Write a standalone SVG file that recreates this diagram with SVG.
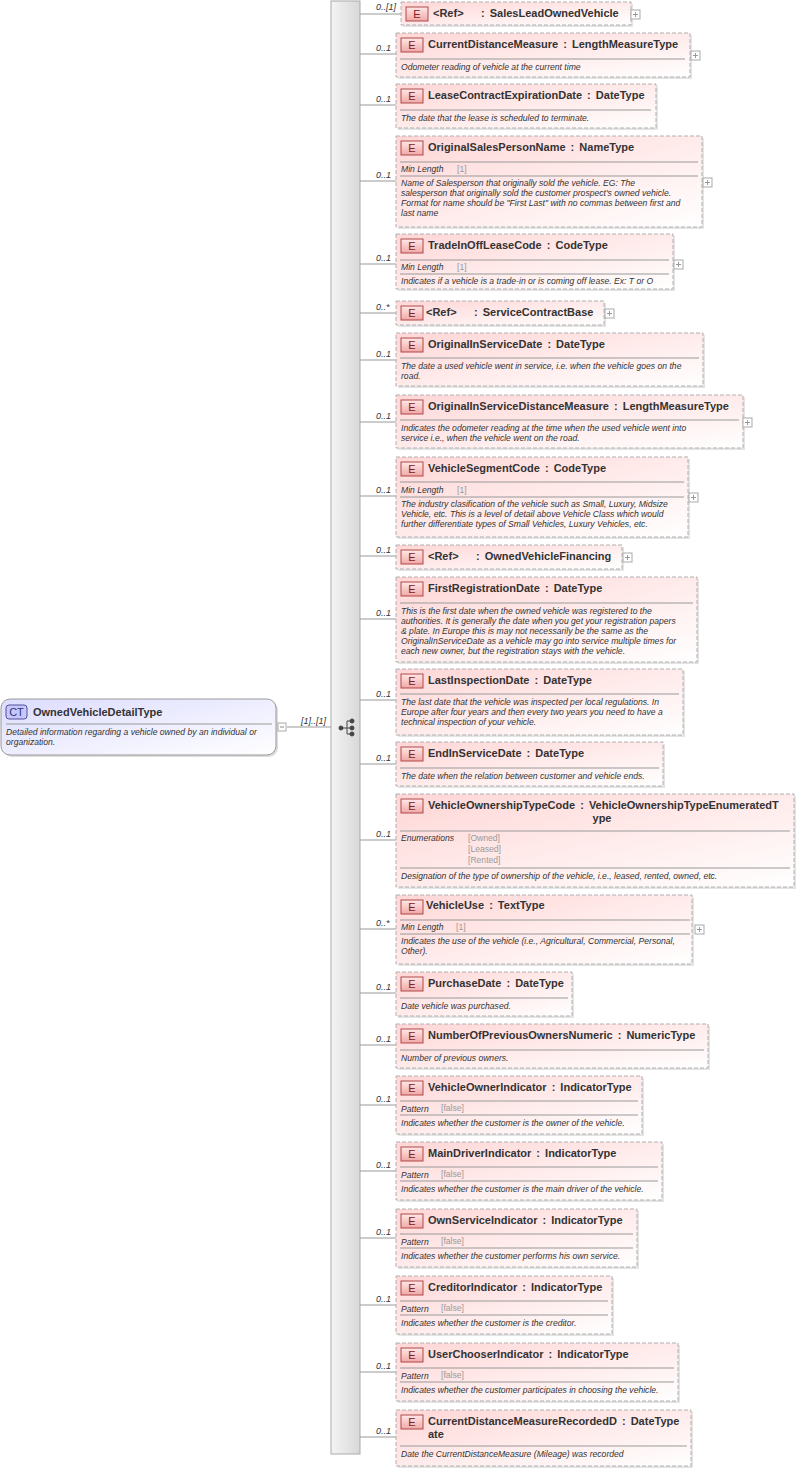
<svg xmlns="http://www.w3.org/2000/svg" width="799" height="1472" viewBox="0 0 799 1472">
<defs>
<linearGradient id="eg" x1="0" y1="0" x2="1" y2="1"><stop offset="0" stop-color="#ffd6d6"/><stop offset="1" stop-color="#ffffff"/></linearGradient>
<linearGradient id="cg" x1="0" y1="0" x2="1" y2="1"><stop offset="0" stop-color="#dcdcff"/><stop offset="1" stop-color="#ffffff"/></linearGradient>
<linearGradient id="bg" x1="0" y1="0" x2="1" y2="0"><stop offset="0" stop-color="#f4f4f4"/><stop offset="1" stop-color="#d8d8d8"/></linearGradient>
<linearGradient id="badge" x1="0" y1="0" x2="0" y2="1"><stop offset="0" stop-color="#ffe8e8"/><stop offset="1" stop-color="#f0a8a8"/></linearGradient>
</defs>
<style>
.box{fill:url(#eg);stroke:#b0b0b0;stroke-dasharray:4,2;stroke-width:1}
.sh{fill:#e4e4e4}
.bd{fill:url(#badge);stroke:#b04848;stroke-width:1}
.bt{font:11px "Liberation Sans",Arial,sans-serif;fill:#802020;text-anchor:middle}
.t{font:bold 11px "Liberation Sans",Arial,sans-serif;fill:#333;word-spacing:2px}
.d{font:italic 8.6px "Liberation Sans",Arial,sans-serif;fill:#333}
.g{font:8.6px "Liberation Sans",Arial,sans-serif;fill:#999}
.m{font:italic 9px "Liberation Sans",Arial,sans-serif;fill:#333}
.sep{stroke:#999;stroke-width:1}
.ln{stroke:#999;stroke-width:1;fill:none}
.pl{fill:#fff;stroke:#aaa}
.pc{stroke:#999;stroke-width:1;fill:none}
</style>
<g id="connectors">
<rect x="331" y="1" width="29" height="1453" fill="url(#bg)" stroke="#aaa"/>
<line class="ln" x1="287" y1="727" x2="331" y2="727"/>
<text class="m" x="301" y="724">[1]..[1]</text>
<g fill="#444" stroke="#444">
<circle cx="341" cy="728" r="2"/><line x1="341" y1="728" x2="347" y2="728"/><line x1="347" y1="721" x2="347" y2="734"/>
<line x1="347" y1="721" x2="352" y2="721"/><line x1="347" y1="728" x2="352" y2="728"/><line x1="347" y1="734" x2="352" y2="734"/>
<circle cx="352" cy="721" r="2"/><circle cx="352" cy="728" r="2"/><circle cx="352" cy="734" r="2"/>
</g>
<path class="ln" d="M360 14H401M360 54H396M360 105H396M360 181H396M360 264H396M360 313H396M360 360H396M360 422H396M360 496H396M360 556H396M360 619H396M360 700H396M360 764H396M360 840H396M360 929H396M360 993H396M360 1045H396M360 1105H396M360 1171H396M360 1238H396M360 1305H396M360 1372H396M360 1437H396"/>
<g class="m">
<text x="376" y="10">0..[1]</text><text x="376" y="51">0..1</text><text x="376" y="102">0..1</text><text x="376" y="178">0..1</text><text x="376" y="261">0..1</text><text x="376" y="310">0..*</text><text x="376" y="357">0..1</text><text x="376" y="419">0..1</text><text x="376" y="493">0..1</text><text x="376" y="553">0..1</text><text x="376" y="616">0..1</text><text x="376" y="697">0..1</text><text x="376" y="761">0..1</text><text x="376" y="837">0..1</text><text x="376" y="926">0..*</text><text x="376" y="990">0..1</text><text x="376" y="1042">0..1</text><text x="376" y="1102">0..1</text><text x="376" y="1168">0..1</text><text x="376" y="1235">0..1</text><text x="376" y="1302">0..1</text><text x="376" y="1369">0..1</text><text x="376" y="1434">0..1</text>
</g>
</g>
<g id="ct">
<rect x="3" y="701" width="275" height="56" rx="9" fill="#ddd"/>
<rect x="1" y="699" width="275" height="56" rx="9" fill="url(#cg)" stroke="#999"/>
<rect x="6" y="705" width="21" height="14" rx="3" fill="#c8c8f8" stroke="#5050a0"/>
<text x="16.5" y="716" font-family="Liberation Sans,Arial,sans-serif" font-size="11" text-anchor="middle" fill="#303080">CT</text>
<text class="t" x="33" y="716">OwnedVehicleDetailType</text>
<line class="sep" x1="6" y1="724" x2="272" y2="724"/>
<text class="d" x="6" y="735">Detailed information regarding a vehicle owned by an individual or</text>
<text class="d" x="6" y="745">organization.</text>
<rect class="pl" x="278" y="723" width="8" height="8"/><line x1="280" y1="727" x2="284" y2="727" stroke="#888"/>
</g>
<g id="n1"><rect class="sh" x="403" y="4" width="230" height="23"/><rect class="box" x="401" y="2" width="230" height="23"/><rect class="bd" x="406" y="7" width="22" height="14"/><text class="bt" x="417" y="18">E</text><text class="t" x="433" y="17">&lt;Ref&gt;</text><text class="t" x="481" y="17">: SalesLeadOwnedVehicle</text><rect class="pl" x="631" y="10" width="9" height="9"/><path class="pc" d="M633 14.5h5M635.5 12v5"/></g>
<g id="n2"><rect class="sh" x="398" y="35" width="294" height="44"/><rect class="box" x="396" y="33" width="294" height="44"/><rect class="bd" x="401" y="38" width="22" height="14"/><text class="bt" x="412" y="49">E</text><text class="t" x="428" y="48">CurrentDistanceMeasure : LengthMeasureType</text><line class="sep" x1="400" y1="59" x2="685" y2="59"/><text class="d" x="401" y="70">Odometer reading of vehicle at the current time</text><rect class="pl" x="691" y="51" width="9" height="9"/><path class="pc" d="M693 55.5h5M695.5 53v5"/></g>
<g id="n3"><rect class="sh" x="398" y="86" width="260" height="44"/><rect class="box" x="396" y="84" width="260" height="44"/><rect class="bd" x="401" y="89" width="22" height="14"/><text class="bt" x="412" y="100">E</text><text class="t" x="428" y="99">LeaseContractExpirationDate : DateType</text><line class="sep" x1="400" y1="110" x2="651" y2="110"/><text class="d" x="401" y="121">The date that the lease is scheduled to terminate.</text></g>
<g id="n4"><rect class="sh" x="398" y="138" width="306" height="91"/><rect class="box" x="396" y="136" width="306" height="91"/><rect class="bd" x="401" y="141" width="22" height="14"/><text class="bt" x="412" y="152">E</text><text class="t" x="428" y="151">OriginalSalesPersonName : NameType</text><line class="sep" x1="400" y1="162" x2="698" y2="162"/><text class="d" x="401" y="172">Min Length</text><text class="g" x="457" y="172">[1]</text><line class="sep" x1="400" y1="176" x2="698" y2="176"/><text class="d" x="401" y="186">Name of Salesperson that originally sold the vehicle. EG: The</text><text class="d" x="401" y="196">salesperson that originally sold the customer prospect's owned vehicle.</text><text class="d" x="401" y="206">Format for name should be "First Last" with no commas between first and</text><text class="d" x="401" y="216">last name</text><rect class="pl" x="703" y="178" width="9" height="9"/><path class="pc" d="M705 182.5h5M707.5 180v5"/></g>
<g id="n5"><rect class="sh" x="398" y="236" width="277" height="55"/><rect class="box" x="396" y="234" width="277" height="55"/><rect class="bd" x="401" y="239" width="22" height="14"/><text class="bt" x="412" y="250">E</text><text class="t" x="428" y="249">TradeInOffLeaseCode : CodeType</text><line class="sep" x1="400" y1="260" x2="669" y2="260"/><text class="d" x="401" y="270">Min Length</text><text class="g" x="457" y="270">[1]</text><line class="sep" x1="400" y1="274" x2="669" y2="274"/><text class="d" x="401" y="284">Indicates if a vehicle is a trade-in or is coming off lease. Ex: T or O</text><rect class="pl" x="674" y="260" width="9" height="9"/><path class="pc" d="M676 264.5h5M678.5 262v5"/></g>
<g id="n6"><rect class="sh" x="398" y="303" width="208" height="24"/><rect class="box" x="396" y="301" width="208" height="24"/><rect class="bd" x="401" y="306" width="22" height="14"/><text class="bt" x="412" y="317">E</text><text class="t" x="426" y="316">&lt;Ref&gt;</text><text class="t" x="474" y="316">: ServiceContractBase</text><rect class="pl" x="605" y="309" width="9" height="9"/><path class="pc" d="M607 313.5h5M609.5 311v5"/></g>
<g id="n7"><rect class="sh" x="398" y="335" width="307" height="53"/><rect class="box" x="396" y="333" width="307" height="53"/><rect class="bd" x="401" y="338" width="22" height="14"/><text class="bt" x="412" y="349">E</text><text class="t" x="428" y="348">OriginalInServiceDate : DateType</text><line class="sep" x1="400" y1="358" x2="699" y2="358"/><text class="d" x="401" y="369">The date a used vehicle went in service, i.e. when the vehicle goes on the</text><text class="d" x="401" y="379">road.</text></g>
<g id="n8"><rect class="sh" x="398" y="397" width="347" height="53"/><rect class="box" x="396" y="395" width="347" height="53"/><rect class="bd" x="401" y="400" width="22" height="14"/><text class="bt" x="412" y="411">E</text><text class="t" x="428" y="410">OriginalInServiceDistanceMeasure : LengthMeasureType</text><line class="sep" x1="400" y1="420" x2="739" y2="420"/><text class="d" x="401" y="431">Indicates the odometer reading at the time when the used vehicle went into</text><text class="d" x="401" y="441">service i.e., when the vehicle went on the road.</text><rect class="pl" x="743" y="418" width="9" height="9"/><path class="pc" d="M745 422.5h5M747.5 420v5"/></g>
<g id="n9"><rect class="sh" x="398" y="459" width="292" height="80"/><rect class="box" x="396" y="457" width="292" height="80"/><rect class="bd" x="401" y="462" width="22" height="14"/><text class="bt" x="412" y="473">E</text><text class="t" x="428" y="472">VehicleSegmentCode : CodeType</text><line class="sep" x1="400" y1="482" x2="684" y2="482"/><text class="d" x="401" y="493">Min Length</text><text class="g" x="457" y="493">[1]</text><line class="sep" x1="400" y1="497" x2="684" y2="497"/><text class="d" x="401" y="507">The industry clasification of the vehicle such as Small, Luxury, Midsize</text><text class="d" x="401" y="517">Vehicle, etc. This is a level of detail above Vehicle Class which would</text><text class="d" x="401" y="527">further differentiate types of Small Vehicles, Luxury Vehicles, etc.</text><rect class="pl" x="689" y="493" width="9" height="9"/><path class="pc" d="M691 497.5h5M693.5 495v5"/></g>
<g id="n10"><rect class="sh" x="398" y="547" width="226" height="24"/><rect class="box" x="396" y="545" width="226" height="24"/><rect class="bd" x="401" y="550" width="22" height="14"/><text class="bt" x="412" y="561">E</text><text class="t" x="428" y="560">&lt;Ref&gt;</text><text class="t" x="476" y="560">: OwnedVehicleFinancing</text><rect class="pl" x="623" y="553" width="9" height="9"/><path class="pc" d="M625 557.5h5M627.5 555v5"/></g>
<g id="n11"><rect class="sh" x="398" y="579" width="301" height="85"/><rect class="box" x="396" y="577" width="301" height="85"/><rect class="bd" x="401" y="582" width="22" height="14"/><text class="bt" x="412" y="593">E</text><text class="t" x="428" y="592">FirstRegistrationDate : DateType</text><line class="sep" x1="400" y1="603" x2="693" y2="603"/><text class="d" x="401" y="614">This is the first date when the owned vehicle was registered to the</text><text class="d" x="401" y="624">authorities. It is generally the date when you get your registration papers</text><text class="d" x="401" y="634">&amp; plate. In Europe this is may not necessarily be the same as the</text><text class="d" x="401" y="644">OriginalInServiceDate as a vehicle may go into service multiple times for</text><text class="d" x="401" y="654">each new owner, but the registration stays with the vehicle.</text></g>
<g id="n12"><rect class="sh" x="398" y="671" width="287" height="66"/><rect class="box" x="396" y="669" width="287" height="66"/><rect class="bd" x="401" y="674" width="22" height="14"/><text class="bt" x="412" y="685">E</text><text class="t" x="428" y="684">LastInspectionDate : DateType</text><line class="sep" x1="400" y1="694" x2="679" y2="694"/><text class="d" x="401" y="705">The last date that the vehicle was inspected per local regulations. In</text><text class="d" x="401" y="715">Europe after four years and then every two years you need to have a</text><text class="d" x="401" y="725">technical inspection of your vehicle.</text></g>
<g id="n13"><rect class="sh" x="398" y="744" width="267" height="44"/><rect class="box" x="396" y="742" width="267" height="44"/><rect class="bd" x="401" y="747" width="22" height="14"/><text class="bt" x="412" y="758">E</text><text class="t" x="428" y="757">EndInServiceDate : DateType</text><line class="sep" x1="400" y1="768" x2="659" y2="768"/><text class="d" x="401" y="779">The date when the relation between customer and vehicle ends.</text></g>
<g id="n14"><rect class="sh" x="398" y="796" width="398" height="93"/><rect class="box" x="396" y="794" width="398" height="93"/><rect class="bd" x="401" y="799" width="22" height="14"/><text class="bt" x="412" y="810">E</text><text class="t" x="428" y="809">VehicleOwnershipTypeCode : VehicleOwnershipTypeEnumeratedT</text><text class="t" x="602" y="822" text-anchor="middle">ype</text><line class="sep" x1="400" y1="831" x2="790" y2="831"/><text class="d" x="401" y="841">Enumerations</text><text class="g" x="468" y="841">[Owned]</text><text class="g" x="468" y="852">[Leased]</text><text class="g" x="468" y="863">[Rented]</text><line class="sep" x1="400" y1="868" x2="790" y2="868"/><text class="d" x="401" y="879">Designation of the type of ownership of the vehicle, i.e., leased, rented, owned, etc.</text></g>
<g id="n15"><rect class="sh" x="398" y="897" width="296" height="69"/><rect class="box" x="396" y="895" width="296" height="69"/><rect class="bd" x="401" y="900" width="22" height="14"/><text class="bt" x="412" y="911">E</text><text class="t" x="426" y="909">VehicleUse : TextType</text><line class="sep" x1="400" y1="920" x2="690" y2="920"/><text class="d" x="401" y="930">Min Length</text><text class="g" x="456" y="930">[1]</text><line class="sep" x1="400" y1="934" x2="690" y2="934"/><text class="d" x="401" y="944">Indicates the use of the vehicle (i.e., Agricultural, Commercial, Personal,</text><text class="d" x="401" y="954">Other).</text><rect class="pl" x="695" y="925" width="9" height="9"/><path class="pc" d="M697 929.5h5M699.5 927v5"/></g>
<g id="n16"><rect class="sh" x="398" y="974" width="176" height="44"/><rect class="box" x="396" y="972" width="176" height="44"/><rect class="bd" x="401" y="977" width="22" height="14"/><text class="bt" x="412" y="988">E</text><text class="t" x="428" y="987">PurchaseDate : DateType</text><line class="sep" x1="400" y1="998" x2="568" y2="998"/><text class="d" x="401" y="1009">Date vehicle was purchased.</text></g>
<g id="n17"><rect class="sh" x="398" y="1026" width="312" height="44"/><rect class="box" x="396" y="1024" width="312" height="44"/><rect class="bd" x="401" y="1029" width="22" height="14"/><text class="bt" x="412" y="1040">E</text><text class="t" x="428" y="1039">NumberOfPreviousOwnersNumeric : NumericType</text><line class="sep" x1="400" y1="1050" x2="704" y2="1050"/><text class="d" x="401" y="1061">Number of previous owners.</text></g>
<g id="n18"><rect class="sh" x="398" y="1078" width="246" height="58"/><rect class="box" x="396" y="1076" width="246" height="58"/><rect class="bd" x="401" y="1081" width="22" height="14"/><text class="bt" x="412" y="1092">E</text><text class="t" x="428" y="1091">VehicleOwnerIndicator : IndicatorType</text><line class="sep" x1="400" y1="1101" x2="638" y2="1101"/><text class="d" x="401" y="1112">Pattern</text><text class="g" x="441" y="1111">[false]</text><line class="sep" x1="400" y1="1115" x2="638" y2="1115"/><text class="d" x="401" y="1126">Indicates whether the customer is the owner of the vehicle.</text></g>
<g id="n19"><rect class="sh" x="398" y="1144" width="266" height="58"/><rect class="box" x="396" y="1142" width="266" height="58"/><rect class="bd" x="401" y="1147" width="22" height="14"/><text class="bt" x="412" y="1158">E</text><text class="t" x="428" y="1157">MainDriverIndicator : IndicatorType</text><line class="sep" x1="400" y1="1167" x2="658" y2="1167"/><text class="d" x="401" y="1178">Pattern</text><text class="g" x="441" y="1177">[false]</text><line class="sep" x1="400" y1="1181" x2="658" y2="1181"/><text class="d" x="401" y="1192">Indicates whether the customer is the main driver of the vehicle.</text></g>
<g id="n20"><rect class="sh" x="398" y="1211" width="241" height="58"/><rect class="box" x="396" y="1209" width="241" height="58"/><rect class="bd" x="401" y="1214" width="22" height="14"/><text class="bt" x="412" y="1225">E</text><text class="t" x="428" y="1224">OwnServiceIndicator : IndicatorType</text><line class="sep" x1="400" y1="1234" x2="633" y2="1234"/><text class="d" x="401" y="1245">Pattern</text><text class="g" x="441" y="1244">[false]</text><line class="sep" x1="400" y1="1248" x2="633" y2="1248"/><text class="d" x="401" y="1259">Indicates whether the customer performs his own service.</text></g>
<g id="n21"><rect class="sh" x="398" y="1278" width="216" height="58"/><rect class="box" x="396" y="1276" width="216" height="58"/><rect class="bd" x="401" y="1281" width="22" height="14"/><text class="bt" x="412" y="1292">E</text><text class="t" x="428" y="1291">CreditorIndicator : IndicatorType</text><line class="sep" x1="400" y1="1301" x2="608" y2="1301"/><text class="d" x="401" y="1312">Pattern</text><text class="g" x="441" y="1311">[false]</text><line class="sep" x1="400" y1="1315" x2="608" y2="1315"/><text class="d" x="401" y="1326">Indicates whether the customer is the creditor.</text></g>
<g id="n22"><rect class="sh" x="398" y="1345" width="282" height="58"/><rect class="box" x="396" y="1343" width="282" height="58"/><rect class="bd" x="401" y="1348" width="22" height="14"/><text class="bt" x="412" y="1359">E</text><text class="t" x="428" y="1358">UserChooserIndicator : IndicatorType</text><line class="sep" x1="400" y1="1368" x2="674" y2="1368"/><text class="d" x="401" y="1379">Pattern</text><text class="g" x="441" y="1378">[false]</text><line class="sep" x1="400" y1="1382" x2="674" y2="1382"/><text class="d" x="401" y="1393">Indicates whether the customer participates in choosing the vehicle.</text></g>
<g id="n23"><rect class="sh" x="398" y="1412" width="295" height="56"/><rect class="box" x="396" y="1410" width="295" height="56"/><rect class="bd" x="401" y="1415" width="22" height="14"/><text class="bt" x="412" y="1426">E</text><text class="t" x="428" y="1425">CurrentDistanceMeasureRecordedD : DateType</text><text class="t" x="428" y="1438">ate</text><line class="sep" x1="400" y1="1446" x2="687" y2="1446"/><text class="d" x="401" y="1457">Date the CurrentDistanceMeasure (Mileage) was recorded</text></g>
</svg>
